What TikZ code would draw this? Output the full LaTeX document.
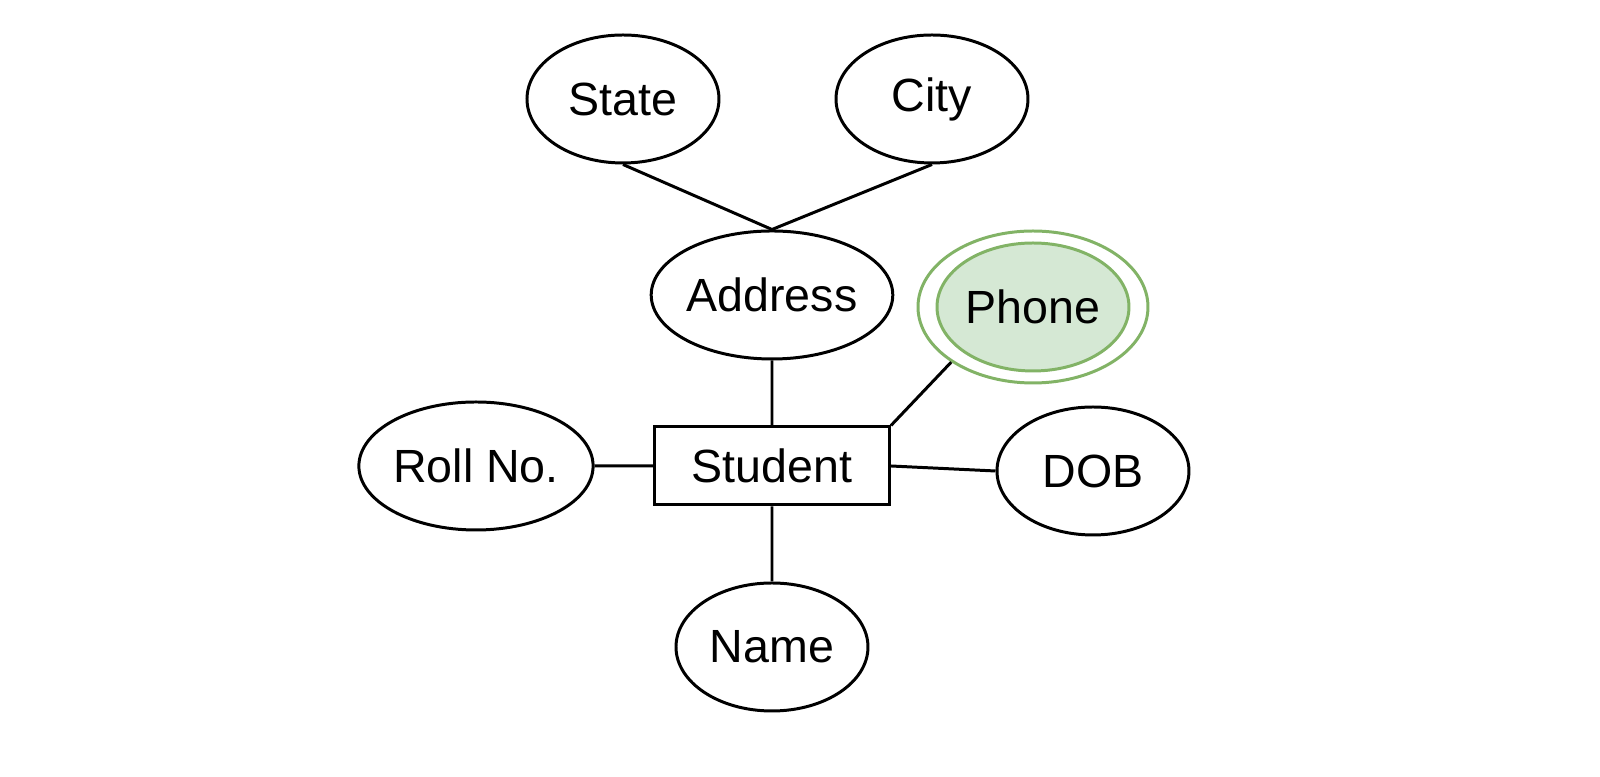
\documentclass[tikz,border=0pt]{standalone}
\usepackage{fontspec}
\setmainfont{Liberation Sans}
\usepackage{tikz}
\usetikzlibrary{shapes.geometric, positioning}

\definecolor{phonefill}{HTML}{D5E8D4}
\definecolor{phoneline}{HTML}{82B366}

\tikzset{
	attr/.style={ellipse, draw, line width=1.7pt, minimum width=3.84cm, minimum height=2.56cm, inner sep=0pt},
	entity/.style={rectangle, draw, line width=1.7pt, minimum width=4.7cm, minimum height=1.56cm, inner sep=0pt},
	link/.style={line width=1.7pt}
}

\begin{document}
\begin{tikzpicture}[font=\fontsize{26.5}{30}\selectfont, node distance=1cm]
			\useasboundingbox (-15.44,-6.22) rectangle (16.56,9.32);
			\node[entity] (student) {Student};
			\node[attr, above of=student, yshift=2.42cm] (address) {Address};
			\node[attr, below of=student, yshift=-2.62cm] (name) {Name};
			\node[attr, left of=student, xshift=-4.92cm] (roll) {Roll No.};
			\node[attr, right of=student, xshift=5.42cm, yshift=-0.1cm] (dob) {DOB};
			\node[attr, above of=address, xshift=-2.98cm, yshift=2.92cm] (state) {State};
			\node[attr, above of=address, xshift=3.2cm, yshift=2.92cm] (city) {City};
			\node[attr, draw=phoneline, minimum width=4.6cm, minimum height=3.04cm, right of=student, xshift=4.22cm, yshift=3.18cm] (phone) {};
			\node[attr, draw=phoneline, fill=phonefill] (phonein) at (phone) {Phone};
			\draw[link]
						(state.south) -- (address.north)
						(city.south) -- (address.north)
						(address) -- (student)
						(phone.214) -- (student.north east)
						(roll) -- (student)
						(student.east) -- (dob.west)
						(student) -- (name);
		\end{tikzpicture}
\end{document}
